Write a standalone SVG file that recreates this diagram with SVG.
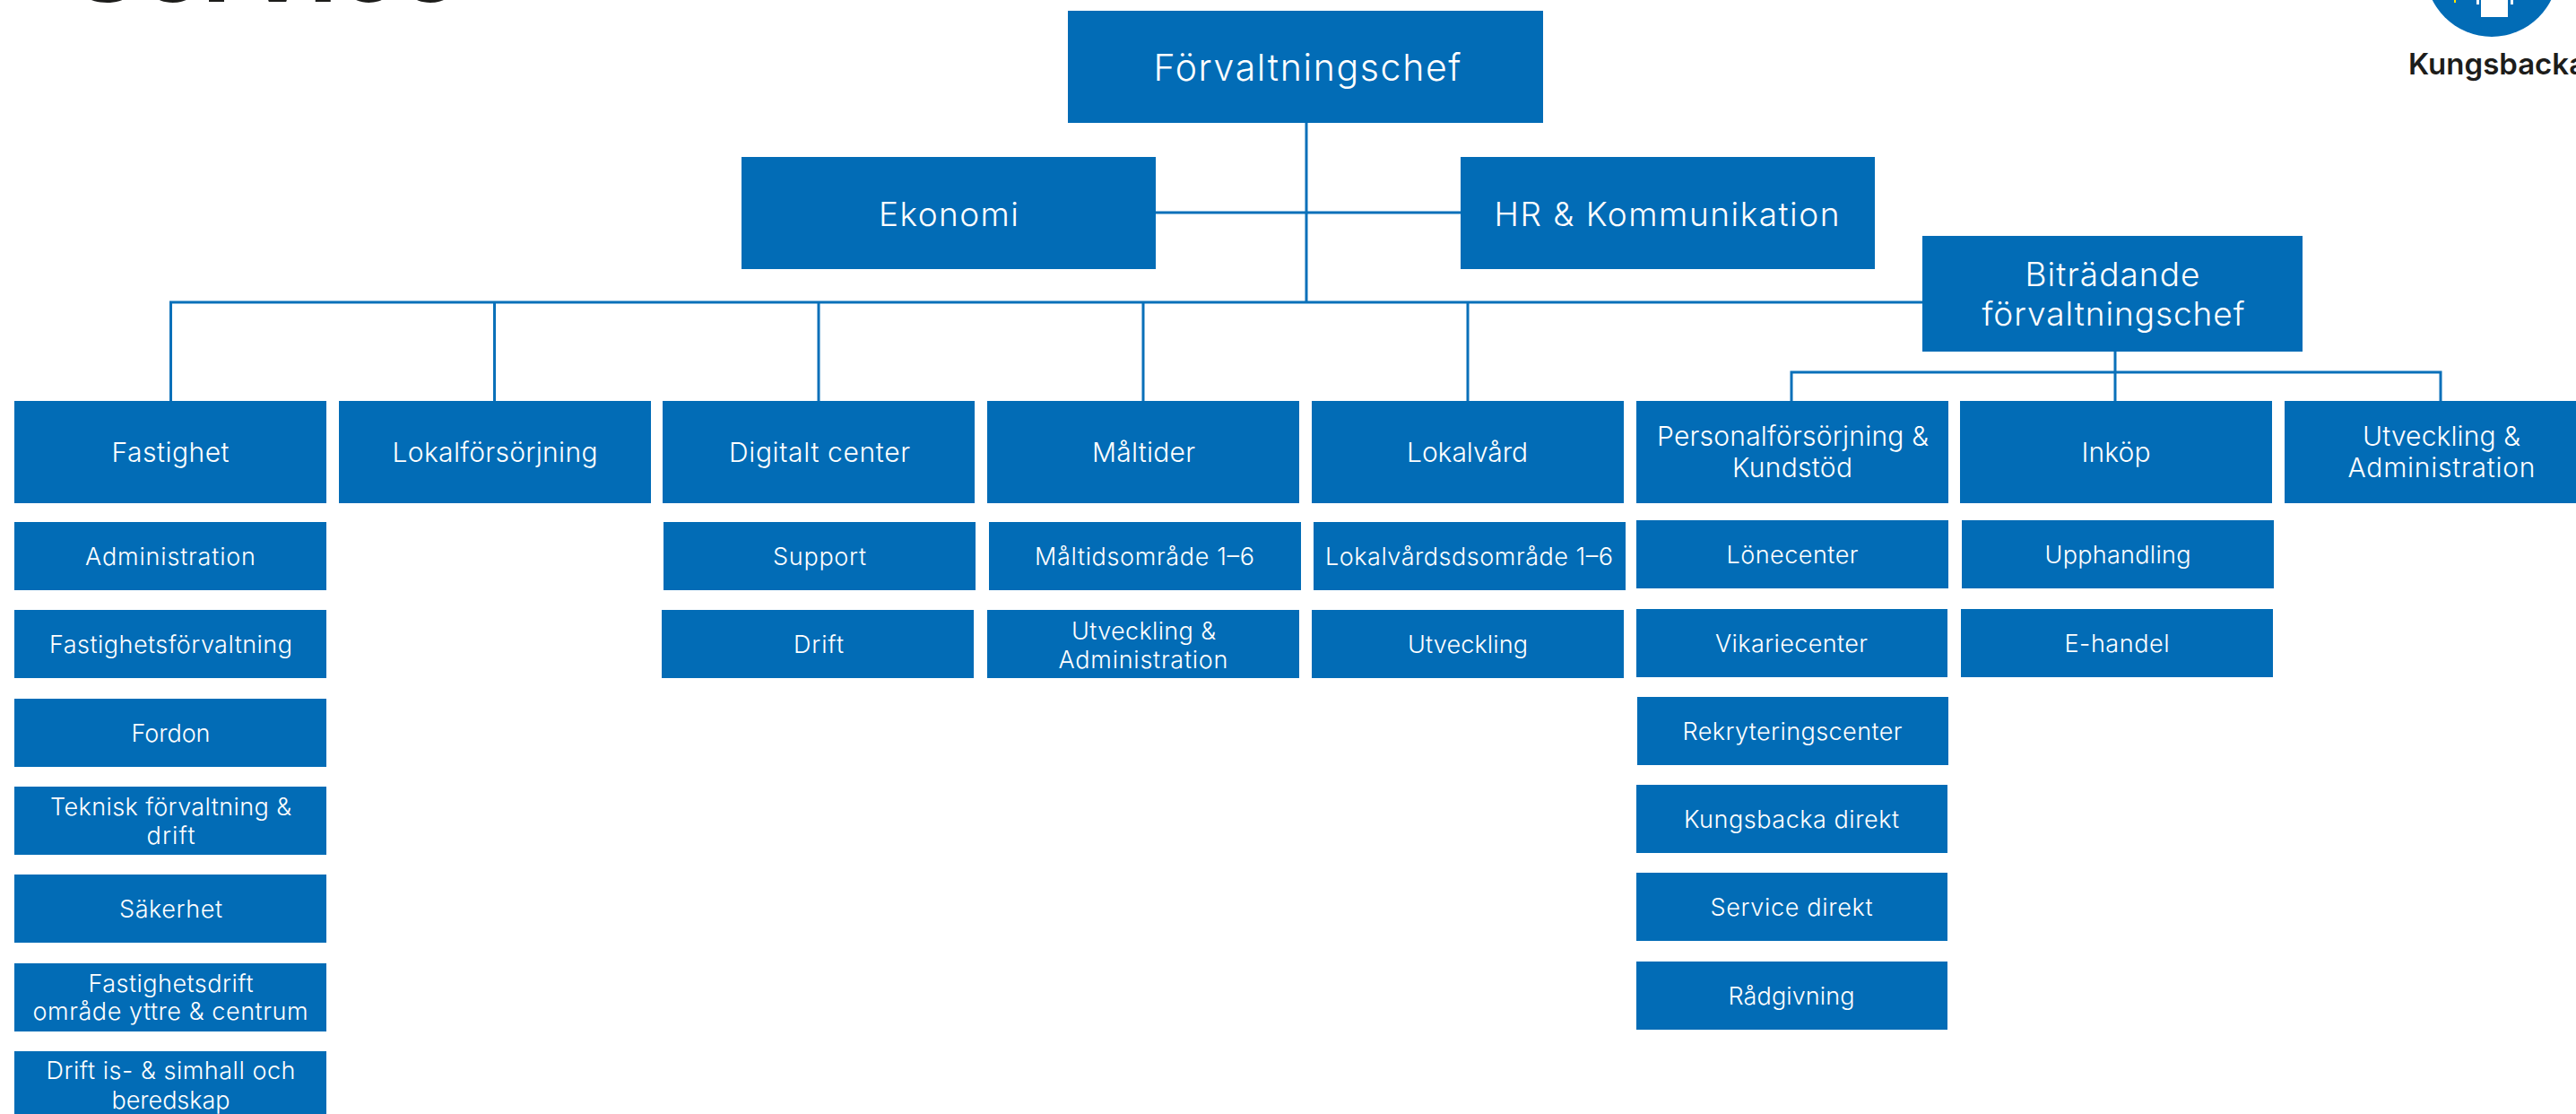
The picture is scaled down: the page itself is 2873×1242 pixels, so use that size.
<svg xmlns="http://www.w3.org/2000/svg" width="2873" height="1242" viewBox="0 0 2873 1242">
<style>
.b{fill:#026cb6}
text{font-family:"Inter","Liberation Sans",sans-serif;text-anchor:middle;fill:#fff;font-weight:300}
.t{font-size:41px}.m{font-size:37px}.l{font-size:30px}.s{font-size:27px}
.c{fill:none;stroke:#0a70b9;stroke-width:3}
.k{fill:#1d1d1b;font-weight:700}
</style>
<rect width="2873" height="1242" fill="#fff"/>
<g id="connectors" class="c">
<path d="M1457 137V337M1289 237H1629M190.500 447V337H2144M551.500 337V447M913 337V447M1275 337V447M1637 337V447"/>
<path d="M2359 392V447M1998 447V415H2722V447"/>
</g>
<g id="header-title"><text class="k" x="297" y="2" style="font-size:116px;text-anchor:middle">Service</text></g>
<g id="logo">
<circle cx="2779" cy="-33" r="74" class="b"/>
<rect x="2767" y="0" width="30" height="19" fill="#fff"/>
<rect x="2762" y="0" width="3" height="5" fill="#fff"/>
<rect x="2800" y="0" width="3" height="5" fill="#fff"/>
<rect x="2737" y="0" width="2" height="3" fill="#ffe600"/>
<text class="k" x="2686" y="83" style="font-size:33px;text-anchor:start;font-weight:600">Kungsbacka</text>
</g>
<g id="forvaltningschef"><rect class="b" x="1191" y="12" width="530" height="125"/><text class="t" x="1458" y="90" textLength="343">Förvaltningschef</text></g>
<g id="ekonomi"><rect class="b" x="827" y="175" width="462" height="125"/><text class="m" x="1058" y="252" textLength="156">Ekonomi</text></g>
<g id="hr"><rect class="b" x="1629" y="175" width="462" height="125"/><text class="m" x="1859" y="252" textLength="385">HR &amp; Kommunikation</text></g>
<g id="bitradande"><rect class="b" x="2144" y="263" width="424" height="129"/><text class="m" x="2356" y="319" textLength="195">Biträdande</text><text class="m" x="2357" y="363" textLength="293">förvaltningschef</text></g>

<g id="fastighet"><rect class="b" x="16" y="447" width="348" height="114"/><text class="l" x="190" y="515" textLength="131">Fastighet</text></g>
<g id="lokalforsorjning"><rect class="b" x="378" y="447" width="348" height="114"/><text class="l" x="552" y="515" textLength="229">Lokalförsörjning</text></g>
<g id="digitalt-center"><rect class="b" x="739" y="447" width="348" height="114"/><text class="l" x="914" y="515" textLength="202">Digitalt center</text></g>
<g id="maltider"><rect class="b" x="1101" y="447" width="348" height="114"/><text class="l" x="1275.500" y="515" textLength="115">Måltider</text></g>
<g id="lokalvard"><rect class="b" x="1463" y="447" width="348" height="114"/><text class="l" x="1636.500" y="515" textLength="135">Lokalvård</text></g>
<g id="personal"><rect class="b" x="1825" y="447" width="348" height="114"/><text class="l" x="1999.500" y="497" textLength="303">Personalförsörjning &amp;</text><text class="l" x="1999" y="532" textLength="134">Kundstöd</text></g>
<g id="inkop"><rect class="b" x="2186" y="447" width="348" height="114"/><text class="l" x="2360" y="515" textLength="77">Inköp</text></g>
<g id="utveckling-adm"><rect class="b" x="2548" y="447" width="348" height="114"/><text class="l" x="2723" y="497" textLength="176">Utveckling &amp;</text><text class="l" x="2723" y="532" textLength="209">Administration</text></g>

<g id="f-administration"><rect class="b" x="16" y="582" width="348" height="76"/><text class="s" x="190" y="630" textLength="190">Administration</text></g>
<g id="f-forvaltning"><rect class="b" x="16" y="680" width="348" height="76"/><text class="s" x="190.500" y="728" textLength="271">Fastighetsförvaltning</text></g>
<g id="f-fordon"><rect class="b" x="16" y="779" width="348" height="76"/><text class="s" x="190.500" y="827" textLength="88">Fordon</text></g>
<g id="f-teknisk"><rect class="b" x="16" y="877" width="348" height="76"/><text class="s" x="190.500" y="909" textLength="269">Teknisk förvaltning &amp;</text><text class="s" x="190.500" y="941" textLength="54">drift</text></g>
<g id="f-sakerhet"><rect class="b" x="16" y="975" width="348" height="76"/><text class="s" x="190.500" y="1023" textLength="115">Säkerhet</text></g>
<g id="f-drift"><rect class="b" x="16" y="1074" width="348" height="76"/><text class="s" x="190.500" y="1106" textLength="184">Fastighetsdrift</text><text class="s" x="190" y="1137" textLength="307">område yttre &amp; centrum</text></g>
<g id="f-ishall"><rect class="b" x="16" y="1172" width="348" height="76"/><text class="s" x="190.500" y="1203" textLength="278">Drift is- &amp; simhall och</text><text class="s" x="190.500" y="1236" textLength="132">beredskap</text></g>

<g id="d-support"><rect class="b" x="740" y="582" width="348" height="76"/><text class="s" x="914" y="630" textLength="104">Support</text></g>
<g id="d-drift"><rect class="b" x="738" y="680" width="348" height="76"/><text class="s" x="913" y="728" textLength="56">Drift</text></g>

<g id="m-omrade"><rect class="b" x="1103" y="582" width="348" height="76"/><text class="s" x="1276.500" y="630" textLength="245">Måltidsområde 1–6</text></g>
<g id="m-utveckling"><rect class="b" x="1101" y="680" width="348" height="76"/><text class="s" x="1275.500" y="713" textLength="161">Utveckling &amp;</text><text class="s" x="1275" y="745" textLength="189">Administration</text></g>

<g id="l-omrade"><rect class="b" x="1465" y="582" width="348" height="76"/><text class="s" x="1638.500" y="630" textLength="321">Lokalvårdsdsområde 1–6</text></g>
<g id="l-utveckling"><rect class="b" x="1463" y="680" width="348" height="76"/><text class="s" x="1637" y="728" textLength="134">Utveckling</text></g>

<g id="p-lonecenter"><rect class="b" x="1825" y="580" width="348" height="76"/><text class="s" x="1999" y="628" textLength="147">Lönecenter</text></g>
<g id="p-vikariecenter"><rect class="b" x="1825" y="679" width="347" height="76"/><text class="s" x="1998" y="727" textLength="170">Vikariecenter</text></g>
<g id="p-rekrytering"><rect class="b" x="1826" y="777" width="347" height="76"/><text class="s" x="1999" y="825" textLength="245">Rekryteringscenter</text></g>
<g id="p-kungsbacka"><rect class="b" x="1825" y="875" width="347" height="76"/><text class="s" x="1998" y="923" textLength="240">Kungsbacka direkt</text></g>
<g id="p-service"><rect class="b" x="1825" y="973" width="347" height="76"/><text class="s" x="1998" y="1021" textLength="181">Service direkt</text></g>
<g id="p-radgivning"><rect class="b" x="1825" y="1072" width="347" height="76"/><text class="s" x="1998" y="1120" textLength="141">Rådgivning</text></g>

<g id="i-upphandling"><rect class="b" x="2188" y="580" width="348" height="76"/><text class="s" x="2362" y="628" textLength="163">Upphandling</text></g>
<g id="i-ehandel"><rect class="b" x="2187" y="679" width="348" height="76"/><text class="s" x="2361" y="727" textLength="117">E-handel</text></g>
</svg>
